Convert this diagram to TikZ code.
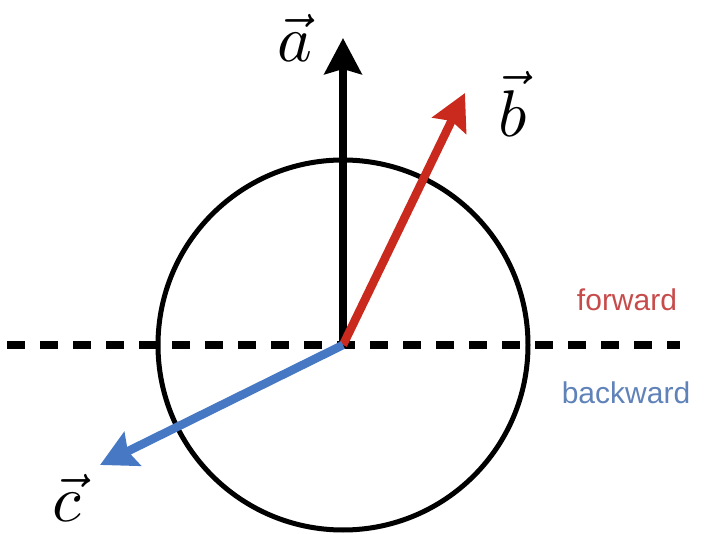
\documentclass[tikz,border=0pt]{standalone}
\usepackage{fontspec}
\setsansfont{Liberation Sans}
\usetikzlibrary{arrows.meta}
\definecolor{ArrowRed}{RGB}{202,42,30}
\definecolor{ArrowBlue}{RGB}{70,120,195}
\definecolor{LabelRed}{RGB}{200,75,75}
\definecolor{LabelBlue}{RGB}{95,130,185}

\begin{document}
\begin{tikzpicture}[x=1pt, y=1pt,
    vecarrow/.style={line width=8.5pt, -{Stealth[length=36pt, width=37pt, inset=5pt]}},
    veclabel/.style={scale=6.6},
    sidelabel/.style={font=\sffamily\fontsize{30}{36}\selectfont}]
    \useasboundingbox (-343,-189) rectangle (376,345);

    % Circle and split line
    \coordinate (O) at (0,0);
    \draw[line width=5pt] (O) circle (185);
    \coordinate (lineL) at (-336,0);
    \coordinate (lineR) at (337,0);
    \draw[line width=8pt, dash pattern=on 18pt off 15pt] (lineL) -- (lineR);

    % Side labels
    \node[sidelabel, text=LabelRed] (fwd) at (284,45) {forward};
    \node[sidelabel, text=LabelBlue] (bwd) at (283,-48) {backward};

    % Vectors
    \coordinate (tipA) at (0,307);
    \coordinate (tipB) at (122,252);
    \coordinate (tipC) at (-243,-120);
    \draw[vecarrow] (O) -- (tipA);
    \draw[vecarrow, ArrowRed] (O) -- (tipB);
    \draw[vecarrow, ArrowBlue] (O) -- (tipC);

    % Vector labels
    \node[veclabel] (labA) at (-48,307) {$\vec{a}$};
    \node[veclabel] (labB) at (170,241) {$\vec{b}$};
    \node[veclabel] (labC) at (-276,-153) {$\vec{c}$};
\end{tikzpicture}
\end{document}
